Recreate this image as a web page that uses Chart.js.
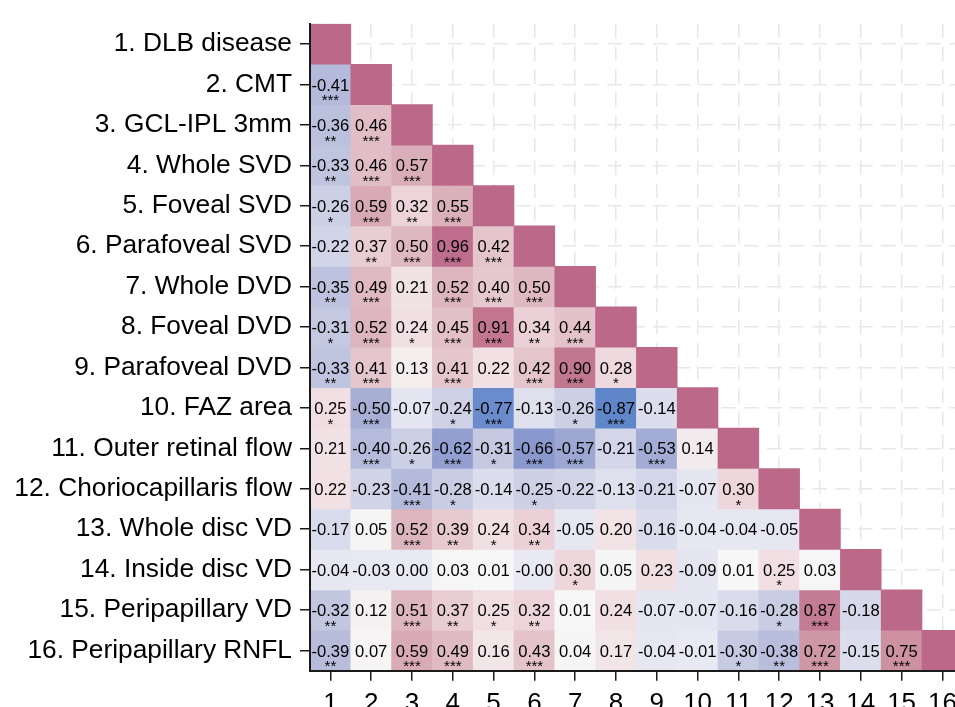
<!DOCTYPE html>
<html>
<head>
<meta charset="utf-8">
<script src="https://cdn.jsdelivr.net/npm/chart.js@4"></script>
<style>
  html, body { margin: 0; padding: 0; background: #ffffff; overflow: hidden; }
  #wrap { width: 955px; height: 707px; overflow: hidden; position: relative; }
  canvas { display: block; }
</style>
</head>
<body>
<div id="wrap"><canvas id="c" width="975" height="707" style="width:975px;height:707px"></canvas></div>
<script>
// ---- data ----
const varNames = [
  '1. DLB disease', '2. CMT', '3. GCL-IPL 3mm', '4. Whole SVD', '5. Foveal SVD',
  '6. Parafoveal SVD', '7. Whole DVD', '8. Foveal DVD', '9. Parafoveal DVD',
  '10. FAZ area', '11. Outer retinal flow', '12. Choriocapillaris flow',
  '13. Whole disc VD', '14. Inside disc VD', '15. Peripapillary VD', '16. Peripapillary RNFL'
];
const colLabels = ['1','2','3','4','5','6','7','8','9','10','11','12','13','14','15','16'];

// lower triangle correlations (row i: columns 1..i-1)
const corrValues = [
  [],
  [-0.41],
  [-0.36, 0.46],
  [-0.33, 0.46, 0.57],
  [-0.26, 0.59, 0.32, 0.55],
  [-0.22, 0.37, 0.50, 0.96, 0.42],
  [-0.35, 0.49, 0.21, 0.52, 0.40, 0.50],
  [-0.31, 0.52, 0.24, 0.45, 0.91, 0.34, 0.44],
  [-0.33, 0.41, 0.13, 0.41, 0.22, 0.42, 0.90, 0.28],
  [0.25, -0.50, -0.07, -0.24, -0.77, -0.13, -0.26, -0.87, -0.14],
  [0.21, -0.40, -0.26, -0.62, -0.31, -0.66, -0.57, -0.21, -0.53, 0.14],
  [0.22, -0.23, -0.41, -0.28, -0.14, -0.25, -0.22, -0.13, -0.21, -0.07, 0.30],
  [-0.17, 0.05, 0.52, 0.39, 0.24, 0.34, -0.05, 0.20, -0.16, -0.04, -0.04, -0.05],
  [-0.04, -0.03, 0.00, 0.03, 0.01, -0.001, 0.30, 0.05, 0.23, -0.09, 0.01, 0.25, 0.03],
  [-0.32, 0.12, 0.51, 0.37, 0.25, 0.32, 0.01, 0.24, -0.07, -0.07, -0.16, -0.28, 0.87, -0.18],
  [-0.39, 0.07, 0.59, 0.49, 0.16, 0.43, 0.04, 0.17, -0.04, -0.01, -0.30, -0.38, 0.72, -0.15, 0.75]
];
// number of significance stars per cell
const sigStars = [
  [],
  [3],
  [2, 3],
  [2, 3, 3],
  [1, 3, 2, 3],
  [0, 2, 3, 3, 3],
  [2, 3, 0, 3, 3, 3],
  [1, 3, 1, 3, 3, 2, 3],
  [2, 3, 0, 3, 0, 3, 3, 1],
  [1, 3, 0, 1, 3, 0, 1, 3, 0],
  [0, 3, 1, 3, 1, 3, 3, 0, 3, 0],
  [0, 0, 3, 1, 0, 1, 0, 0, 0, 0, 1],
  [0, 0, 3, 2, 1, 2, 0, 0, 0, 0, 0, 0],
  [0, 0, 0, 0, 0, 0, 1, 0, 0, 0, 0, 1, 0],
  [2, 0, 3, 2, 1, 2, 0, 0, 0, 0, 0, 1, 3, 0],
  [2, 0, 3, 3, 0, 3, 0, 0, 0, 0, 1, 2, 3, 0, 3]
];

// ---- styling ----
const FONT = '"Liberation Sans", Arial, Helvetica, sans-serif';
const diagColor = 'rgb(188,104,136)';
const negStops = [
  [0.00, [233,233,243]], [0.10, [227,228,240]], [0.15, [219,221,236]],
  [0.25, [206,209,229]], [0.35, [189,194,222]], [0.45, [173,180,215]],
  [0.55, [160,170,211]], [0.65, [140,154,206]], [0.75, [108,141,204]],
  [0.90, [93,132,201]], [1.00, [88,128,200]]
];
const posStops = [
  [0.00, [247,247,247]], [0.12, [245,241,242]], [0.15, [242,231,234]],
  [0.25, [240,222,226]], [0.35, [234,208,214]], [0.45, [226,192,200]],
  [0.55, [218,176,187]], [0.75, [205,145,162]], [0.87, [196,124,148]],
  [1.00, [188,104,136]]
];
function interp(stops, a) {
  for (let i = 1; i < stops.length; i++) {
    if (a <= stops[i][0]) {
      const [a0, c0] = stops[i-1], [a1, c1] = stops[i];
      const t = (a - a0) / (a1 - a0);
      const c = c0.map((v, k) => Math.round(v + (c1[k] - v) * t));
      return `rgb(${c[0]},${c[1]},${c[2]})`;
    }
  }
  const c = stops[stops.length-1][1];
  return `rgb(${c[0]},${c[1]},${c[2]})`;
}
function colorFor(v) {
  return v <= 0 ? interp(negStops, -v) : interp(posStops, v);
}

const datasets = varNames.map((name, r) => {
  const vals = corrValues[r].concat([1]);
  return {
    label: name,
    data: vals.map((v, c) => ({ x: colLabels[c], y: [r + 0.5, r + 1.5] })),
    backgroundColor: vals.map((v, c) => c === r ? diagColor : colorFor(v)),
    borderWidth: 0,
    grouped: false,
    barPercentage: 1,
    categoryPercentage: 1
  };
});

const cellText = {
  id: 'cellText',
  afterDatasetsDraw(chart) {
    const ctx = chart.ctx;
    ctx.save();
    ctx.fillStyle = '#000';
    ctx.textAlign = 'center';
    chart.data.datasets.forEach((ds, r) => {
      const meta = chart.getDatasetMeta(r);
      meta.data.forEach((bar, c) => {
        if (c >= corrValues[r].length) return;
        const v = corrValues[r][c];
        const cy = (bar.y + bar.base) / 2;
        ctx.font = '16.6px ' + FONT;
        ctx.textBaseline = 'middle';
        ctx.fillText(v.toFixed(2), bar.x, cy + 1.5);
        const n = sigStars[r][c];
        if (n > 0) {
          ctx.font = '15px ' + FONT;
          ctx.textBaseline = 'alphabetic';
          ctx.fillText('*'.repeat(n), bar.x, cy + 20.8);
        }
      });
    });
    ctx.restore();
  }
};

const gridCommon = {
  color: '#e8e8e8',
  lineWidth: 1.5,
  tickLength: 10,
  tickColor: '#1a1a1a',
  tickWidth: 1.5,
  tickBorderDash: []
};
const borderCommon = { color: '#1a1a1a', width: 2, dash: [14.5, 8.3], z: 1 };

new Chart(document.getElementById('c'), {
  type: 'bar',
  data: { labels: colLabels, datasets },
  options: {
    responsive: false,
    devicePixelRatio: 1,
    animation: false,
    layout: { padding: { top: 17.7, right: 12.2, left: 0, bottom: 0 } },
    plugins: { legend: { display: false }, tooltip: { enabled: false } },
    scales: {
      x: {
        type: 'category',
        offset: true,
        grid: Object.assign({ offset: false }, gridCommon),
        border: borderCommon,
        ticks: { color: '#000', font: { family: FONT, size: 26 }, padding: 8, maxRotation: 0, minRotation: 0, autoSkip: false },
        afterFit: s => { s.height = 36.3; }
      },
      y: {
        type: 'linear',
        min: 0.5, max: 16.5,
        reverse: true,
        afterBuildTicks: s => { s.ticks = varNames.map((_, i) => ({ value: i + 1 })); },
        grid: gridCommon,
        border: borderCommon,
        ticks: {
          color: '#000', font: { family: FONT, size: 26.3 }, padding: 8, autoSkip: false,
          callback: v => varNames[Math.round(v) - 1]
        },
        afterFit: s => { s.width = 310; }
      }
    }
  },
  plugins: [cellText]
});
</script>
</body>
</html>
